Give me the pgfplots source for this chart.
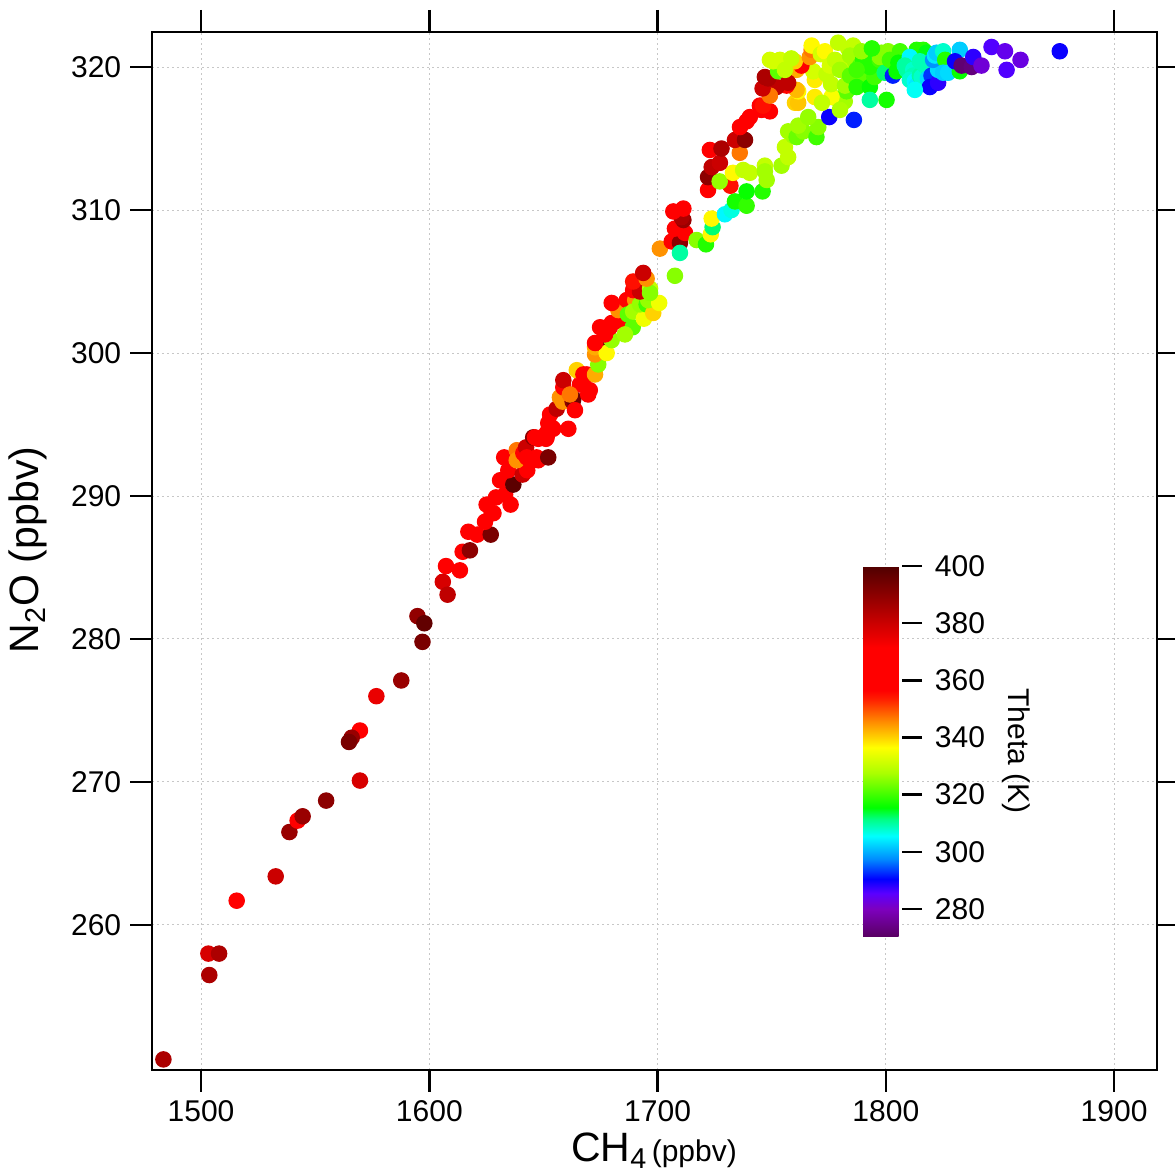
\documentclass[border=0pt]{standalone}
\usepackage{pgfplots}
\pgfplotsset{compat=1.18}
\usepackage{pgfplotstable}
\usepackage{fontspec}
\setmainfont{Liberation Sans}

\pgfplotstableread{
x y t
1483.5 250.6 385
1503.2 258.0 378
1507.9 258.0 385
1503.6 256.5 385
1515.6 261.7 365
1532.7 263.4 380
1538.7 266.5 388
1542.3 267.3 365
1544.5 267.6 388
1554.8 268.7 390
1569.6 270.1 378
1569.6 273.6 365
1566.0 273.1 388
1564.8 272.8 393
1576.8 276.0 375
1587.7 277.1 388
1594.8 281.6 389
1597.8 281.1 397
1597.0 279.8 393
1605.9 284.0 378
1607.3 285.1 365
1608.0 283.1 382
1613.4 284.8 365
1614.6 286.1 365
1617.8 286.2 390
1617.1 287.5 365
1621.0 287.3 368
1626.9 287.3 393
1624.4 288.2 365
1627.3 288.8 365
1628.1 288.8 365
1625.1 289.4 365
1629.2 289.9 365
1635.6 289.4 365
1633.2 290.1 368
1631.0 291.1 365
1636.8 290.8 398
1634.6 291.8 365
1640.9 291.5 380
1642.9 291.8 365
1632.8 292.7 365
1638.3 293.2 347
1638.3 292.5 345
1641.2 293.0 365
1642.4 293.4 380
1642.7 292.7 365
1647.0 292.7 365
1647.7 292.5 365
1652.1 292.7 393
1645.5 294.1 390
1646.3 294.1 365
1647.7 294.0 368
1651.1 294.0 365
1651.4 294.1 365
1660.9 294.7 365
1652.1 295.1 365
1654.3 294.7 368
1653.6 294.8 365
1651.4 294.4 365
1652.9 295.7 365
1655.8 296.1 382
1657.2 296.9 345
1658.4 296.6 345
1662.8 296.6 390
1663.1 296.8 395
1669.6 297.1 365
1666.0 297.8 365
1658.7 297.6 365
1658.7 298.1 380
1661.6 297.1 347
1663.8 296.0 365
1670.3 297.4 365
1664.6 298.8 340
1667.5 298.5 365
1669.0 298.5 360
1672.6 298.5 343
1674.0 299.2 325
1672.6 299.9 345
1672.6 300.4 343
1675.5 300.7 392
1677.7 300.0 337
1672.6 300.7 365
1679.9 300.9 326
1677.0 301.3 365
1674.8 301.8 365
1679.1 301.8 365
1679.9 302.1 365
1684.3 302.2 365
1682.8 303.0 345
1679.9 303.5 365
1686.5 303.7 365
1690.2 303.7 345
1689.1 301.8 322
1685.7 301.3 327
1687.0 302.7 322
1689.3 302.9 327
1694.0 302.4 335
1692.3 303.4 326
1695.2 303.4 320
1698.1 302.8 340
1695.9 303.7 326
1700.7 303.5 335
1689.3 304.4 365
1692.3 304.3 380
1696.7 304.5 330
1696.7 304.2 325
1689.3 305.0 355
1695.2 305.2 345
1693.7 305.6 380
1707.6 305.4 325
1701.0 307.3 345
1706.2 307.8 365
1709.8 307.7 390
1709.8 307.0 310
1712.0 308.4 365
1707.6 308.7 365
1711.3 309.3 388
1710.5 309.5 385
1706.9 309.9 365
1711.3 310.1 365
1717.1 307.9 325
1721.2 307.6 318
1723.3 308.3 337
1724.1 308.8 312
1723.7 309.4 337
1729.5 309.7 305
1732.4 310.0 307
1733.9 310.6 317
1739.0 310.3 319
1739.0 311.3 316
1746.0 311.3 318
1722.1 311.4 365
1722.1 312.3 390
1731.9 311.7 355
1727.2 312.0 326
1733.0 312.6 337
1723.7 313.0 382
1727.3 313.3 380
1737.5 312.8 330
1740.4 312.6 330
1747.0 313.1 330
1747.0 312.7 327
1747.8 312.1 327
1754.3 313.1 327
1757.2 313.7 330
1755.8 314.4 330
1759.4 315.2 327
1757.2 315.5 327
1760.9 315.1 323
1763.8 315.5 325
1761.6 315.9 327
1769.6 315.1 320
1770.4 315.8 325
1766.0 316.5 326
1722.9 314.2 365
1728.0 314.3 385
1736.0 314.0 347
1733.9 314.9 380
1738.3 314.9 390
1736.1 315.8 365
1739.0 316.2 365
1740.4 316.5 365
1744.8 317.3 365
1745.5 317.0 365
1749.2 316.9 365
1746.2 317.3 355
1760.2 317.5 340
1761.6 317.5 341
1775.2 316.5 290
1786.0 316.3 292
1778.4 317.8 327
1782.0 317.6 327
1782.8 318.3 322
1776.2 317.9 336
1768.9 317.9 338
1768.9 319.1 338
1768.2 319.7 332
1761.6 318.3 337
1760.9 318.4 342
1760.9 319.8 343
1756.5 318.7 356
1752.1 318.6 382
1749.2 318.0 347
1746.0 318.5 380
1747.0 319.3 385
1748.4 319.2 385
1752.8 319.7 322
1757.2 318.9 382
1763.0 320.1 362
1760.1 320.4 340
1750.6 320.4 332
1749.2 320.5 332
1753.6 320.5 332
1755.8 319.8 330
1758.6 320.6 330
1766.7 320.7 345
1767.5 321.2 347
1767.5 321.5 337
1771.5 320.9 332
1773.3 321.1 337
1774.0 319.5 330
1775.5 320.1 332
1776.0 318.8 330
1779.1 321.7 330
1783.5 321.3 330
1785.7 321.5 330
1781.3 320.3 330
1777.7 320.5 330
1779.9 319.8 327
1784.3 320.8 327
1786.5 320.4 327
1788.7 320.1 322
1782.1 318.7 327
1779.9 317.0 328
1772.0 317.5 330
1784.3 319.4 322
1790.5 319.0 322
1787.2 318.6 318
1793.0 318.6 316
1793.0 317.7 310
1800.3 317.7 317
1795.9 320.8 314
1795.0 319.3 320
1798.0 321.0 325
1801.0 321.1 325
1801.7 320.3 325
1793.0 320.0 318
1790.0 320.5 318
1787.2 319.8 320
1789.3 321.1 326
1797.3 320.5 320
1797.4 320.7 325
1793.9 321.3 318
1799.5 319.6 312
1801.8 320.5 320
1803.1 319.4 292
1806.2 321.1 320
1805.5 320.3 316
1804.7 319.7 316
1813.5 321.2 318
1816.4 321.2 318
1817.8 321.0 315
1810.5 320.7 305
1808.3 320.1 310
1809.1 319.8 310
1812.0 319.8 308
1812.0 319.4 309
1810.5 319.1 308
1812.7 319.0 305
1813.5 318.7 304
1814.9 319.4 310
1815.7 319.3 308
1814.9 320.4 309
1817.1 320.1 309
1818.4 319.2 303
1820.0 319.4 293
1819.3 318.6 290
1822.9 318.9 288
1822.9 319.8 303
1820.7 320.5 298
1821.5 320.8 304
1822.2 321.0 302
1825.1 321.1 308
1826.0 320.5 318
1825.1 319.6 302
1827.3 319.6 303
1812.7 318.4 306
1832.4 319.7 316
1832.4 321.2 302
1830.3 320.4 290
1833.2 320.1 272
1837.6 320.0 273
1838.3 320.7 288
1841.9 320.1 282
1846.3 321.4 286
1852.2 321.1 284
1852.9 319.8 286
1859.0 320.5 283
1876.2 321.1 290
}\datatable

\begin{document}
\begin{tikzpicture}
\begin{axis}[
  scale only axis, width=402pt, height=415.2pt,
  xmin=1478.5, xmax=1918.8, ymin=249.86, ymax=322.45,
  xtick={1500,1600,...,1900}, ytick={260,270,...,320},
  tick align=outside, major tick length=8.8pt,
  tick style={line width=1pt, black},
  axis line style={line width=0.9pt},
  grid=major, grid style={dash pattern=on 0.8pt off 1.2pt, color=black!22, line width=0.4pt},
  /pgf/number format/assume math mode=true,
  /pgf/number format/1000 sep={},
  ticklabel style={font=\fontsize{12}{14}\selectfont},
  xlabel={{\fontsize{16.4}{19}\selectfont CH\textsubscript{4}}\,{\fontsize{12}{14}\selectfont (ppbv)}},
  xlabel style={at={(axis description cs:0.4995,-0.0886)}, anchor=base},
  ylabel={N\textsubscript{2}O (ppbv)},
  ylabel style={font=\fontsize{16.4}{19}\selectfont, at={(axis description cs:-0.1234,0.501)}, anchor=center},
  colormap={theta}{rgb255(0pt)=(90,0,100) rgb255(9.5pt)=(125,0,190) rgb255(15pt)=(90,0,255) rgb255(20pt)=(0,0,255) rgb255(27pt)=(0,140,255) rgb255(35pt)=(0,255,255) rgb255(41pt)=(0,255,130) rgb255(45pt)=(0,255,0) rgb255(57pt)=(170,255,0) rgb255(66pt)=(255,255,0) rgb255(75pt)=(255,140,0) rgb255(83pt)=(255,30,0) rgb255(86pt)=(255,0,0) rgb255(101pt)=(255,0,0) rgb255(110pt)=(200,0,0) rgb255(119.5pt)=(140,0,0) rgb255(129.5pt)=(80,0,0)},
  point meta min=270.5, point meta max=400,
  colorbar,
  colorbar style={
    at={(0.7075,0.129)}, anchor=south west,
    scale only axis, width=15.6pt, height=148pt,
    ytick={280,300,...,400},
    ytick pos=right, yticklabel pos=right,
    tick align=outside, major tick length=8pt,
    tick style={line width=1pt, black},
    axis line style={draw=none},
    yticklabel style={font=\fontsize{12}{14}\selectfont, xshift=1.6pt},
    ylabel={Theta (K)},
    ylabel style={rotate=180, font=\fontsize{12}{14}\selectfont},
    /pgf/number format/assume math mode=true,
  },
]
\addplot[scatter, only marks, mark=*, mark size=3.1pt, scatter src=explicit,
  scatter/use mapped color={draw=mapped color, fill=mapped color}]
  table[x=x, y=y, meta=t] {\datatable};
\end{axis}
\path (current axis.south west) ++(-60.8pt,-41.2pt) coordinate (bl);
\path (current axis.north east) ++(7.2pt,12.8pt) coordinate (tr);
\pgfresetboundingbox
\path (bl) rectangle (tr);
\end{tikzpicture}
\end{document}
